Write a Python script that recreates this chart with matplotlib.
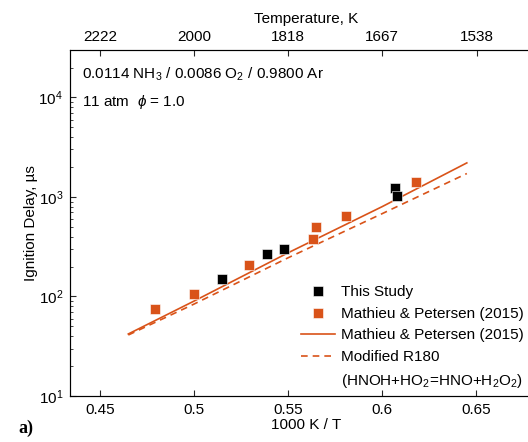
import numpy as np
import matplotlib
matplotlib.use('Agg')
import matplotlib.pyplot as plt
from matplotlib.lines import Line2D

plt.rcParams['font.family'] = ['Liberation Sans', 'DejaVu Sans']
plt.rcParams['font.size'] = 11
plt.rcParams['mathtext.fontset'] = 'custom'
plt.rcParams['mathtext.rm'] = 'Liberation Sans'
plt.rcParams['mathtext.it'] = 'Liberation Sans:italic'
plt.rcParams['mathtext.default'] = 'regular'
plt.rcParams['mathtext.fallback'] = 'stix'

orange = '#D95319'
axcol = '#262626'

# data (1000 K / T, ignition delay in microseconds)
study_x = [0.515, 0.539, 0.548, 0.607, 0.608]
study_y = [151, 269, 302, 1230, 1020]
mp_x = [0.479, 0.500, 0.529, 0.563, 0.565, 0.581, 0.618]
mp_y = [74, 107, 209, 380, 501, 646, 1410]
model_x = [0.465, 0.50, 0.55, 0.60, 0.645]
model_y = [42, 90, 275, 800, 2200]
mod_x = [0.465, 0.50, 0.55, 0.60, 0.645]
mod_y = [41, 84, 245, 680, 1720]
temp_labels = ['2222', '2000', '1818', '1667', '1538']

fig = plt.figure(figsize=(5.28, 4.42), dpi=100)
ax = fig.add_axes([0.1326, 0.1041, 0.894, 0.7828])

h1, = ax.plot(study_x, study_y, 's', color='black', mec='white', mew=0.4,
              ms=6.5, zorder=3)
h2, = ax.plot(mp_x, mp_y, 's', color=orange, mec='white', mew=0.4, ms=6.5,
              zorder=3)
h3, = ax.plot(model_x, model_y, '-', color=orange, lw=1.2)
h4, = ax.plot(mod_x, mod_y, '--', color=orange, lw=1.2, dashes=(4, 3))
blank = Line2D([], [], linestyle='none')

ax.set_yscale('log')
ax.set_xlim(0.434, 0.685)
ax.set_ylim(10, 3e4)
ax.set_xticks([0.45, 0.5, 0.55, 0.6, 0.65])
ax.set_xticklabels(['0.45', '0.5', '0.55', '0.6', '0.65'])
ax.set_xlabel('1000 K / T', labelpad=1)
ax.set_ylabel('Ignition Delay, µs', labelpad=0)
ax.tick_params(which='both', direction='in', color=axcol, labelcolor='black')
ax.tick_params(which='major', length=4, pad=5)
ax.tick_params(which='minor', length=2.5)
for s in ax.spines.values():
    s.set_color(axcol)
    s.set_linewidth(0.8)

top = ax.twiny()
top.set_xlim(ax.get_xlim())
top.set_xticks([1000 / float(t) for t in temp_labels])
top.set_xticklabels(temp_labels)
top.set_xlabel('Temperature, K', labelpad=5)
top.tick_params(direction='in', length=4, color=axcol, pad=4)

ax.text(0.025, 0.93, '0.0114 NH$_3$ / 0.0086 O$_2$ / 0.9800 Ar',
        transform=ax.transAxes, va='center')
ax.text(0.025, 0.85, '11 atm  $\\mathit{\\phi}$ = 1.0', transform=ax.transAxes,
        va='center')

ax.legend([h1, h2, h3, h4, blank],
          ['This Study', 'Mathieu & Petersen (2015)',
           'Mathieu & Petersen (2015)', 'Modified R180',
           '(HNOH+HO$_2$=HNO+H$_2$O$_2$)'],
          loc='upper left', bbox_to_anchor=(0.556, 0.372),
          bbox_transform=fig.transFigure, frameon=False, handlelength=2.2,
          handletextpad=0.4, labelspacing=0.5, borderpad=0)

fig.text(0.034, 0.02, 'a)', family='Liberation Serif', weight='bold',
         fontsize=13)

fig.savefig('out.png', dpi=100)
